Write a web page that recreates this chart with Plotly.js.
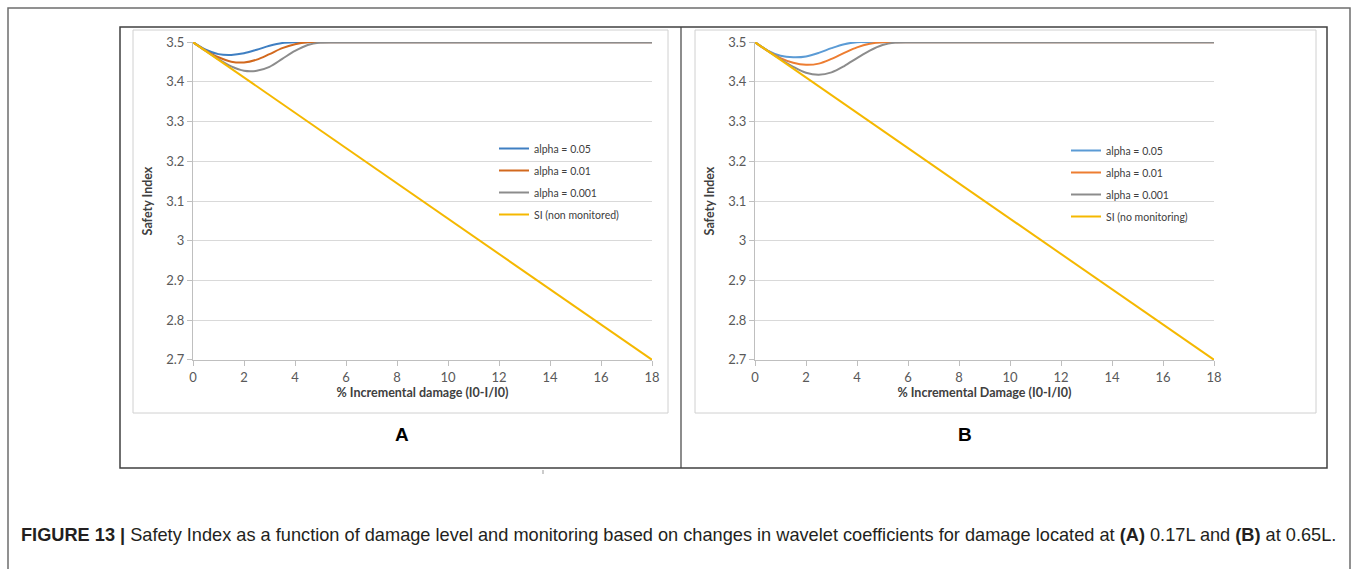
<!DOCTYPE html>
<html>
<head>
<meta charset="utf-8">
<script src="https://cdn.plot.ly/plotly-3.0.1.min.js"></script>
<style>html,body{margin:0;padding:0;background:#fff;}#chart{width:1357px;height:569px;}</style>
</head>
<body>
<div id="chart"></div>
<script>
// ---- data ----
var siX = [0, 18];
var siY = [3.5, 2.7];

// Panel A (damage at 0.17L)
var a05X = [0, 0.5, 1, 1.5, 2, 2.5, 3, 3.5, 4, 4.5, 18];
var a05Y = [3.5, 3.481, 3.470, 3.468, 3.472, 3.481, 3.491, 3.498, 3.5, 3.5, 3.5];
var a01X = [0, 0.5, 1, 1.5, 2, 2.5, 3, 3.5, 4, 4.5, 5, 18];
var a01Y = [3.5, 3.479, 3.462, 3.451, 3.449, 3.456, 3.470, 3.485, 3.495, 3.5, 3.5, 3.5];
var a001X = [0, 0.5, 1, 1.5, 2, 2.5, 3, 3.5, 4, 4.5, 5, 5.5, 6, 18];
var a001Y = [3.5, 3.478, 3.457, 3.439, 3.428, 3.428, 3.438, 3.458, 3.478, 3.493, 3.499, 3.5, 3.5, 3.5];

// Panel B (damage at 0.65L)
var b05X = [0, 0.5, 1, 1.5, 2, 2.5, 3, 3.5, 4, 4.5, 5, 18];
var b05Y = [3.5, 3.479, 3.466, 3.462, 3.464, 3.473, 3.485, 3.495, 3.5, 3.5, 3.5, 3.5];
var b01X = [0, 0.5, 1, 1.5, 2, 2.5, 3, 3.5, 4, 4.5, 5, 5.5, 6, 18];
var b01Y = [3.5, 3.478, 3.460, 3.448, 3.443, 3.446, 3.458, 3.473, 3.487, 3.496, 3.5, 3.5, 3.5, 3.5];
var b001X = [0, 0.5, 1, 1.5, 2, 2.5, 3, 3.5, 4, 4.5, 5, 5.5, 6, 6.5, 18];
var b001Y = [3.5, 3.478, 3.457, 3.438, 3.423, 3.418, 3.424, 3.440, 3.460, 3.479, 3.493, 3.499, 3.5, 3.5, 3.5];

var namesA = ['alpha = 0.05', 'alpha = 0.01', 'alpha = 0.001', 'SI (non monitored)'];
var namesB = ['alpha = 0.05', 'alpha = 0.01', 'alpha = 0.001', 'SI (no monitoring)'];
var xTitleA = '% Incremental damage (I0-I/I0)';
var xTitleB = '% Incremental Damage (I0-I/I0)';
var yTitle = 'Safety Index';
var panelLabels = ['A', 'B'];
var caption = '<b>FIGURE 13 |</b> Safety Index as a function of damage level and monitoring based on changes in wavelet coefficients for damage located at <b>(A)</b> 0.17L and <b>(B)</b> at 0.65L.';

// ---- styling ----
var W = 1357, H = 569;
function px(x) { return x / W; }
function py(y) { return 1 - y / H; }
var colsA = ['#3f7fc2', '#d2691e', '#8c8c8c', '#f5b800'];
var colsB = ['#5b9bd5', '#ed7d31', '#8c8c8c', '#f5b800'];
var FONT = 'Lato, "Liberation Sans", sans-serif';

function tr(x, y, name, color, xa, ya, leg, grp) {
  return {x: x, y: y, name: name, type: 'scatter', mode: 'lines',
    line: {color: color, width: 2, shape: 'spline', smoothing: 0.9},
    xaxis: xa, yaxis: ya, legend: leg, legendgroup: grp, hoverinfo: 'skip'};
}
var data = [
  tr(a05X, a05Y, namesA[0], colsA[0], 'x', 'y', 'legend', 'a1'),
  tr(a01X, a01Y, namesA[1], colsA[1], 'x', 'y', 'legend', 'a2'),
  tr(a001X, a001Y, namesA[2], colsA[2], 'x', 'y', 'legend', 'a3'),
  tr(siX, siY, namesA[3], colsA[3], 'x', 'y', 'legend', 'a4'),
  tr(b05X, b05Y, namesB[0], colsB[0], 'x2', 'y2', 'legend2', 'b1'),
  tr(b01X, b01Y, namesB[1], colsB[1], 'x2', 'y2', 'legend2', 'b2'),
  tr(b001X, b001Y, namesB[2], colsB[2], 'x2', 'y2', 'legend2', 'b3'),
  tr(siX, siY, namesB[3], colsB[3], 'x2', 'y2', 'legend2', 'b4')
];

function xax(dom, anchor, title) {
  return {domain: dom, anchor: anchor, range: [0, 18], dtick: 2, tick0: 0,
    ticks: 'outside', ticklen: 5, tickcolor: '#bfbfbf', showline: true, linecolor: '#bfbfbf', linewidth: 1,
    showgrid: false, zeroline: false, fixedrange: true,
    tickfont: {family: FONT, size: 13, color: '#595959'},
    title: {text: title, standoff: 2, font: {family: FONT, size: 12.5, color: '#404040', weight: 'bold'}}};
}
function yax(anchor) {
  return {domain: [py(360), py(42)], anchor: anchor, range: [2.6995, 3.5005], dtick: 0.1, tick0: 2.7,
    ticks: 'outside', ticklen: 5, tickcolor: '#bfbfbf', showline: true, linecolor: '#bfbfbf', linewidth: 1,
    showgrid: true, gridcolor: '#d9d9d9', gridwidth: 1, zeroline: false, fixedrange: true,
    tickfont: {family: FONT, size: 13, color: '#595959'},
    title: {text: yTitle, standoff: 10, font: {family: FONT, size: 12.5, color: '#404040', weight: 'bold'}}};
}
function leg(xp, yp) {
  return {x: px(xp), y: py(yp), xanchor: 'left', yanchor: 'top', bgcolor: 'rgba(0,0,0,0)',
    font: {family: FONT, size: 10.5, color: '#404040'}, itemwidth: 30, tracegroupgap: 3};
}
function rect(x0, y0, x1, y1, color, w) {
  return {type: 'rect', xref: 'paper', yref: 'paper', x0: px(x0), x1: px(x1), y0: py(y0), y1: py(y1),
    line: {color: color, width: w}, fillcolor: 'rgba(0,0,0,0)', layer: 'below'};
}
function ln(x0, y0, x1, y1, color, w) {
  return {type: 'line', xref: 'paper', yref: 'paper', x0: px(x0), x1: px(x1), y0: py(y0), y1: py(y1),
    line: {color: color, width: w}};
}

var layout = {
  width: W, height: H, margin: {l: 0, r: 0, t: 0, b: 0},
  paper_bgcolor: '#ffffff', plot_bgcolor: 'rgba(0,0,0,0)',
  showlegend: true,
  xaxis: xax([px(193), px(652)], 'y', xTitleA),
  yaxis: yax('x'),
  xaxis2: xax([px(755), px(1214)], 'y2', xTitleB),
  yaxis2: yax('x2'),
  legend: leg(494, 134),
  legend2: leg(1066, 136),
  shapes: [
    rect(8, 8, 1350, 580, '#6e6e6e', 1.5),
    rect(120, 27, 1327, 468, '#404040', 1.5),
    ln(681, 27, 681, 468, '#404040', 1.2),
    rect(133, 30, 668, 413, '#d0d0d0', 1),
    rect(695, 30, 1316, 413, '#d0d0d0', 1),
    ln(543, 470, 543, 474, '#999999', 1)
  ],
  annotations: [
    {text: panelLabels[0], x: px(402), y: py(434), xref: 'paper', yref: 'paper', showarrow: false,
     xanchor: 'center', yanchor: 'middle', font: {family: 'Liberation Sans, Arial, sans-serif', size: 19, color: '#000', weight: 'bold'}},
    {text: panelLabels[1], x: px(965), y: py(434), xref: 'paper', yref: 'paper', showarrow: false,
     xanchor: 'center', yanchor: 'middle', font: {family: 'Liberation Sans, Arial, sans-serif', size: 19, color: '#000', weight: 'bold'}},
    {text: caption, x: px(19), y: py(535), xref: 'paper', yref: 'paper', showarrow: false,
     xanchor: 'left', yanchor: 'middle', font: {family: 'Liberation Sans, Arial, sans-serif', size: 18.2, color: '#231f20'}}
  ]
};

Plotly.newPlot('chart', data, layout, {displayModeBar: false, staticPlot: true});
</script>
</body>
</html>
